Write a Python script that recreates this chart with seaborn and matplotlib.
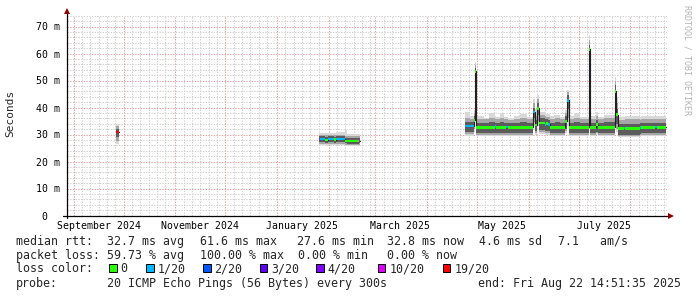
import numpy as np
import pandas as pd
import matplotlib
matplotlib.use("Agg")
import matplotlib.pyplot as plt
import matplotlib.dates as mdates
from matplotlib.patches import Rectangle
from matplotlib.transforms import ScaledTranslation
import seaborn as sns

# ---------------- data ----------------
loss_labels = ["0", "1/20", "2/20", "3/20", "4/20", "10/20", "19/20"]
loss_colors = ["#26ff00", "#00b8ff", "#0059ff", "#5e00ff", "#7e00ff", "#dd00ff", "#ff0000"]

nan = float("nan")
# sample start times; a row with NaN median closes a segment (gap follows)
times = [
    "2024-09-26 12:00", "2024-09-28 00:00",
    "2025-01-26 00:00", "2025-01-26 12:00", "2025-01-29 12:00", "2025-01-31 12:00",
    "2025-02-04 00:00", "2025-02-05 12:00", "2025-02-10 12:00", "2025-02-12 00:00",
    "2025-02-19 00:00", "2025-02-20 00:00",
    "2025-04-24 00:00", "2025-04-26 12:00", "2025-04-29 00:00", "2025-04-29 12:00",
    "2025-04-30 12:00", "2025-05-05 00:00", "2025-05-08 00:00", "2025-05-11 12:00",
    "2025-05-12 12:00", "2025-05-15 00:00", "2025-05-17 00:00", "2025-05-18 12:00",
    "2025-05-19 12:00", "2025-05-23 00:00", "2025-05-27 00:00", "2025-05-31 00:00",
    "2025-06-03 12:00", "2025-06-04 12:00", "2025-06-06 00:00", "2025-06-07 00:00",
    "2025-06-10 12:00", "2025-06-11 12:00", "2025-06-12 12:00", "2025-06-13 12:00",
    "2025-06-17 00:00", "2025-06-20 00:00", "2025-06-23 00:00", "2025-06-24 00:00",
    "2025-06-25 00:00", "2025-06-28 00:00", "2025-07-02 00:00", "2025-07-07 00:00",
    "2025-07-08 00:00", "2025-07-11 12:00", "2025-07-12 12:00", "2025-07-16 00:00",
    "2025-07-22 12:00", "2025-07-23 12:00", "2025-07-24 12:00", "2025-07-28 00:00",
    "2025-07-29 00:00", "2025-08-06 12:00", "2025-08-07 12:00", "2025-08-16 00:00",
    "2025-08-17 00:00", "2025-08-22 12:00",
]
median_ms = [
    30.9, nan,
    28.3, 28.3, 28.0, 28.3, 28.1, 28.3, 27.6, 27.6, 27.7, nan,
    33.1, 33.1, 35.2, 53.4, 32.7, 32.7, 32.7, 32.9, 32.7, 32.7, 32.7, 32.8,
    32.7, 32.7, 32.7, 32.7, 38.3, 33.5, 39.7, 34.3, 33.8, 34.0, 33.8, 32.7,
    32.7, 32.7, 34.9, 42.6, 32.7, 32.7, 32.7, 61.5, 32.7, 33.7, 32.7, 32.7,
    46.0, 37.3, 32.3, 32.4, 32.3, 32.5, 32.7, 32.8, 32.7, nan,
]
loss_idx = [
    6, -1,
    5, 1, 0, 1, 0, 1, 0, 0, 5, -1,
    1, 1, 0, 0, 0, 0, 0, 1, 0, 0, 0, 1,
    0, 0, 0, 0, 1, 0, 0, 0, 1, 0, 1, 0,
    0, 0, 0, 1, 0, 0, 0, 0, 0, 0, 0, 0,
    0, 0, 0, 1, 0, 1, 0, 1, 0, -1,
]
smoke_min = [
    26.3, nan,
    26.0, 26.0, 25.9, 26.0, 26.0, 26.0, 25.8, 25.7, 25.8, nan,
    29.6, 29.6, 31.0, 36.0, 29.3, 29.3, 29.3, 29.3, 29.3, 29.3, 29.3, 29.3,
    29.3, 29.3, 29.3, 29.3, 33.0, 30.0, 33.0, 30.2, 30.0, 30.0, 30.0, 29.3,
    29.3, 29.3, 30.6, 33.0, 29.3, 29.3, 29.3, 42.0, 29.3, 29.8, 29.3, 29.3,
    36.0, 31.0, 29.0, 29.0, 29.0, 29.2, 29.3, 29.3, 29.3, nan,
]
smoke_p10 = [
    27.6, nan,
    26.5, 26.5, 26.4, 26.5, 26.4, 26.5, 26.2, 26.1, 26.2, nan,
    30.2, 30.2, 32.0, 45.0, 29.9, 29.9, 29.9, 29.9, 29.9, 29.9, 29.9, 29.9,
    29.9, 29.9, 29.9, 29.9, 34.5, 30.6, 35.0, 30.8, 30.6, 30.6, 30.6, 29.9,
    29.9, 29.9, 31.2, 36.0, 29.9, 29.9, 29.9, 52.0, 29.9, 30.4, 29.9, 29.9,
    40.0, 32.2, 29.6, 29.6, 29.6, 29.8, 29.9, 29.9, 29.9, nan,
]
smoke_p25 = [
    29.0, nan,
    27.1, 27.1, 27.0, 27.1, 27.0, 27.1, 26.7, 26.6, 26.7, nan,
    30.8, 30.8, 33.2, 51.0, 30.4, 30.4, 30.4, 30.4, 30.4, 30.4, 30.4, 30.4,
    30.4, 30.4, 30.4, 30.4, 36.2, 31.2, 37.2, 31.6, 31.2, 31.2, 31.2, 30.4,
    30.4, 30.4, 32.0, 39.5, 30.4, 30.4, 30.4, 58.0, 30.4, 31.0, 30.4, 30.4,
    43.5, 33.8, 30.0, 30.0, 30.0, 30.2, 30.4, 30.4, 30.4, nan,
]
smoke_p75 = [
    32.2, nan,
    29.4, 29.4, 29.2, 29.4, 29.2, 29.4, 28.8, 28.7, 28.8, nan,
    34.6, 34.6, 36.8, 54.6, 34.4, 34.4, 34.5, 34.4, 34.4, 34.5, 34.4, 34.4,
    34.4, 34.4, 34.5, 34.4, 39.8, 35.4, 41.5, 36.0, 35.6, 35.6, 35.4, 34.4,
    34.5, 34.4, 36.8, 44.5, 34.4, 34.5, 34.4, 63.2, 34.4, 35.4, 34.4, 34.5,
    48.2, 39.5, 34.0, 34.0, 34.0, 34.2, 34.4, 34.4, 34.4, nan,
]
smoke_p90 = [
    33.2, nan,
    30.0, 30.0, 29.8, 30.0, 29.8, 30.0, 29.6, 29.3, 29.4, nan,
    36.0, 35.8, 37.8, 55.8, 35.8, 35.6, 36.2, 35.8, 35.6, 36.2, 35.6, 35.6,
    35.4, 35.8, 36.0, 35.6, 41.5, 37.0, 43.0, 37.2, 36.8, 36.6, 36.6, 35.8,
    36.0, 35.6, 38.0, 45.6, 35.8, 36.2, 35.6, 65.0, 35.8, 36.8, 35.6, 36.0,
    49.8, 41.5, 35.4, 35.4, 35.6, 35.4, 35.6, 35.6, 35.8, nan,
]
smoke_max = [
    34.0, nan,
    30.4, 30.6, 30.4, 30.6, 30.4, 30.8, 31.6, 30.0, 30.2, nan,
    38.3, 37.0, 39.0, 57.0, 37.0, 36.2, 37.8, 37.0, 36.4, 38.0, 36.5, 36.5,
    36.0, 36.8, 37.6, 36.5, 43.0, 39.5, 44.5, 38.5, 38.0, 37.5, 37.5, 36.8,
    37.2, 36.4, 39.0, 46.6, 37.0, 37.8, 36.6, 66.7, 37.0, 38.5, 36.5, 37.4,
    51.2, 44.0, 36.5, 36.5, 36.8, 36.5, 36.8, 36.8, 37.0, nan,
]

y_ticks_ms = [0, 10, 20, 30, 40, 50, 60, 70]
y_tick_labels = ["0", "10 m", "20 m", "30 m", "40 m", "50 m", "60 m", "70 m"]
x_label_months = ["2024-09-01", "2024-11-01", "2025-01-01", "2025-03-01", "2025-05-01", "2025-07-01"]
x_tick_labels = ["September 2024", "November 2024", "January 2025", "March 2025", "May 2025", "July 2025"]
graph_end = "2025-08-22 14:51:35"
span_days = 360

rtt_parts = ["median rtt:", "32.7 ms avg", "61.6 ms max", "27.6 ms min", "32.8 ms now", "4.6 ms sd", "7.1   am/s"]
loss_parts = ["packet loss:", "59.73 % avg", "100.00 % max", "0.00 % min", "0.00 % now"]
probe_text = "20 ICMP Echo Pings (56 Bytes) every 300s"
end_text = "end: Fri Aug 22 14:51:35 2025"

# ---------------- figure ----------------
sns.set_theme(style="white")
plt.rcParams["font.family"] = ["DejaVu Sans Mono"]
W, H = 697, 297
fig = plt.figure(figsize=(W / 100, H / 100), dpi=100)
fig.patch.set_facecolor("white")
ax = fig.add_axes([66.5 / W, 81.5 / H, 600 / W, 200 / H])
ax.set_facecolor("white")

t = mdates.date2num(pd.to_datetime(times))
med = np.array(median_ms)
t_end = mdates.date2num(pd.Timestamp(graph_end))
t_start = t_end - span_days
ax.set_xlim(t_start, t_end)
ax.set_ylim(0, 200 / 2.7)

# grid (dotted, rrdtool style)
GRID = "#d0d0d0"
MGRID = "#e3a3a3"
dots = dict(lw=0.75, ls=(0, (1.3, 1.3)), zorder=1)
for v in np.arange(2, 75, 2):
    if v % 10:
        ax.axhline(v, color=GRID, **dots)
months = pd.date_range("2024-09-01", "2025-08-01", freq="MS")
minor_days = []
for m in months:
    nxt = m + pd.offsets.MonthBegin(1)
    for d in (5, 10, 15, 20, 25):
        day = m + pd.Timedelta(days=d)
        if (nxt - day).days >= 3 and mdates.date2num(day) < t_end:
            minor_days.append(mdates.date2num(day))
for v in minor_days:
    ax.axvline(v, color=GRID, **dots)
for v in y_ticks_ms[1:]:
    ax.axhline(v, color=MGRID, **dots)
month_pos = [mdates.date2num(m) for m in months]
for v in month_pos:
    ax.axvline(v, color=MGRID, **dots)

# smoke bands
valid = ~np.isnan(med)
idx = np.where(valid)[0]
widths = t[idx + 1] - t[idx]
bands = [
    (smoke_min, smoke_max, "#d8d8d8"),
    (smoke_p10, smoke_p90, "#a6a6a6"),
    (smoke_p25, smoke_p75, "#5c5c5c"),
]
for lo, hi, col in bands:
    lo = np.array(lo)[idx]
    hi = np.array(hi)[idx]
    ax.bar(t[idx], hi - lo, bottom=lo, width=widths, align="edge", color=col,
           linewidth=0, antialiased=False, zorder=2)

# median line (black, step) via seaborn, one unit per data segment
rows = []
seg = 0
for i in range(len(times)):
    if valid[i]:
        rows.append((t[i], med[i], seg))
    else:
        rows.append((t[i], med[i - 1], seg))
        seg += 1
line_df = pd.DataFrame(rows, columns=["t", "median", "seg"])
sns.lineplot(data=line_df, x="t", y="median", units="seg", estimator=None, sort=False,
             drawstyle="steps-post", color="#202020", linewidth=0.8, ax=ax, legend=False, zorder=3)

# loss-coloured median band
half = 0.5
cols = [loss_colors[loss_idx[i]] for i in idx]
ax.bar(t[idx], 2 * half, bottom=med[idx] - half, width=widths, align="edge", color=cols,
       linewidth=0, antialiased=False, zorder=4)

# axes, ticks
for s in ax.spines.values():
    s.set_visible(False)
ax.set_xlabel("")
ax.set_ylabel("")
ax.set_yticks(y_ticks_ms, y_tick_labels)
ax.set_yticks(np.arange(0, 75, 2), minor=True)
lab_pos = [mdates.date2num(pd.Timestamp(m) + pd.Timedelta(days=15)) for m in x_label_months]
ax.set_xticks(lab_pos, x_tick_labels)
ax.set_xticks(sorted(month_pos + minor_days), minor=True)
ax.tick_params(axis="x", which="major", length=0, pad=4.2, labelsize=7.1, colors="#000000")
ax.tick_params(axis="x", which="minor", length=3, width=0.7, direction="inout", color="#000000")
ax.tick_params(axis="y", which="major", length=3, width=0.7, direction="inout", pad=3.5,
               labelsize=7.1, colors="#000000")
ax.tick_params(axis="y", which="minor", length=3, width=0.7, direction="inout", color="#000000")
zero_lab = ax.get_yticklabels()[0]
zero_lab.set_transform(zero_lab.get_transform() + ScaledTranslation(-0.12, 0, fig.dpi_scale_trans))

# axis lines with arrows
ax.plot([0, 0], [-2.5 / 200, 1 + 4 / 200], transform=ax.transAxes, color="#000000", lw=0.9,
        clip_on=False, zorder=6)
ax.plot([-3.5 / 600, 1 + 3 / 600], [0, 0], transform=ax.transAxes, color="#000000", lw=0.9,
        clip_on=False, zorder=6)
ax.plot([0], [1 + 4.5 / 200], marker="^", ms=4.5, color="#8b0000", transform=ax.transAxes,
        clip_on=False, zorder=7, mew=0)
ax.plot([1 + 4 / 600], [0], marker=">", ms=4.5, color="#8b0000", transform=ax.transAxes,
        clip_on=False, zorder=7, mew=0)

# labels
fig.text(10 / W, 1 - 113 / H, "Seconds", rotation=90, ha="center", va="center", fontsize=8)
fig.text(687 / W, 1 - 5 / H, "RRDTOOL / TOBI OETIKER", rotation=270, ha="center", va="top",
         fontsize=6, color="#b5b5b5")

FS = 8.4
def ftext(x, ybase, s, **kw):
    fig.text(x / W, 1 - ybase / H, s, ha="left", va="baseline", fontsize=FS, **kw)

for x, s in zip([16, 107, 200, 297, 387, 479, 558], rtt_parts):
    ftext(x, 245, s)
for x, s in zip([16, 107, 200, 298, 387], loss_parts):
    ftext(x, 259, s)
ftext(16, 272.5, "loss color:")
for x, c, s in zip([109, 146, 203, 259.5, 316, 377.7, 442.7], loss_colors, loss_labels):
    fig.patches.append(Rectangle((x / W, 1 - 272 / H), 7.5 / W, 8 / H, transform=fig.transFigure,
                                 facecolor=c, edgecolor="#000000", lw=0.7))
    ftext(x + 11.5, 272.5, s)
ftext(16, 286.5, "probe:")
ftext(107, 286.5, probe_text)
ftext(478, 286.5, end_text)

fig.savefig("out.png", dpi=100, facecolor="white")
